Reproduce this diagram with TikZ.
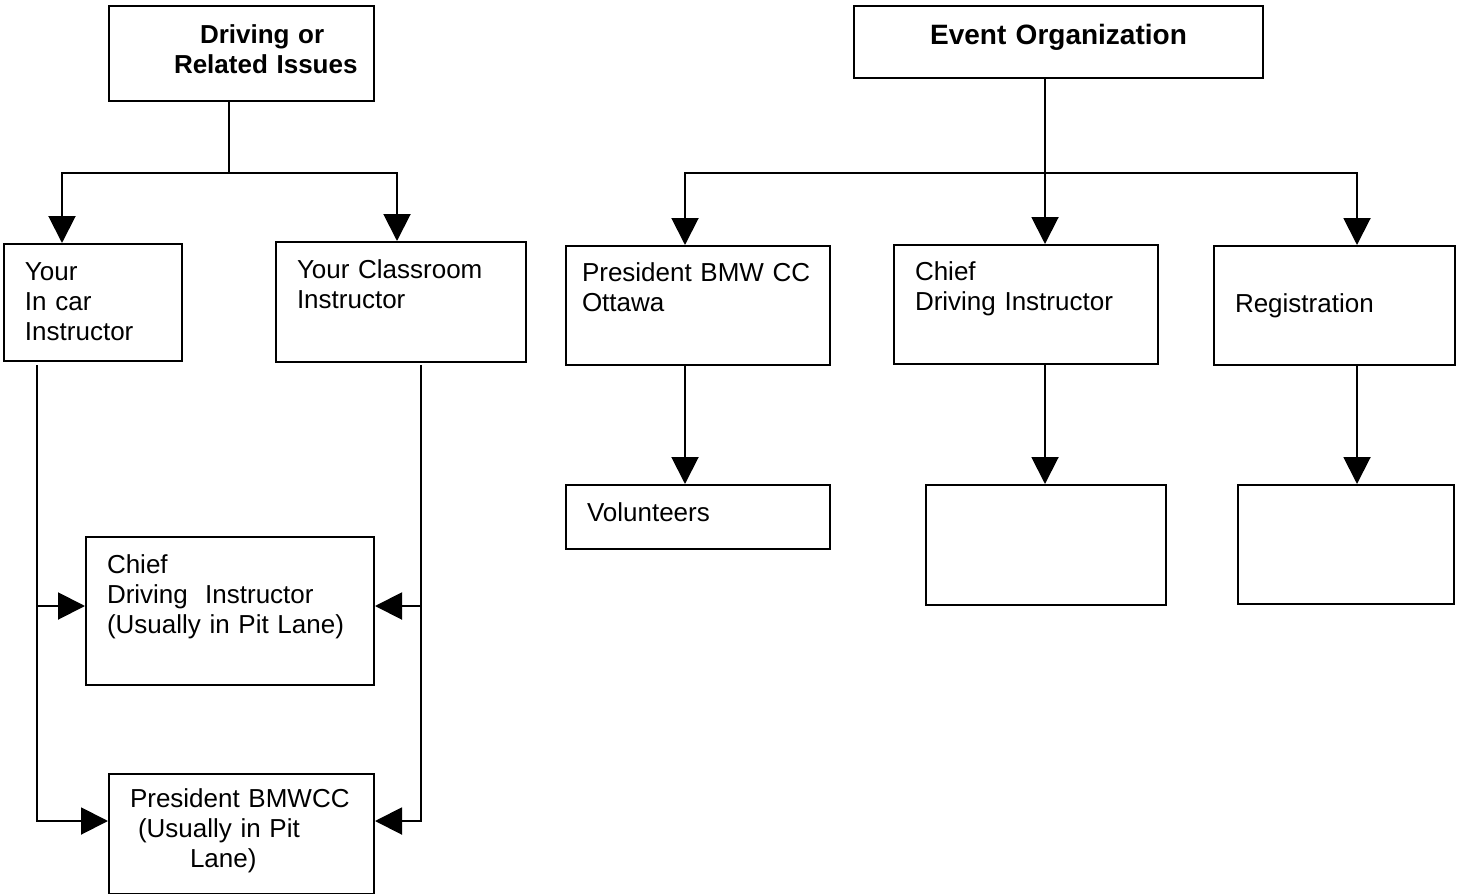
\documentclass[tikz,border=0pt]{standalone}
\usepackage{fontspec}
\setmainfont{Liberation Sans}
\usetikzlibrary{arrows.meta}

\begin{document}
\begin{tikzpicture}[x=0.5pt, y=-0.5pt,
    box/.style={rectangle, draw, line width=1pt, anchor=north west, inner xsep=10.5pt, inner ysep=0pt, align=left, text height=18pt, font=\fontsize{13}{15}\selectfont},
    head/.style={box, font=\fontsize{13}{15}\selectfont\bfseries},
    line/.style={draw, line width=1pt},
    arr/.style={line, -{Triangle[length=13.5pt, width=13.5pt]}}]

    \useasboundingbox (0,0) rectangle (1458,894);

    % driving side
    \node [head, inner xsep=6pt, text width=120.5pt, text height=18.5pt, text depth=29pt] (drive) at (108,5) {\hspace*{39.5pt}Driving or\\\hspace*{26.5pt}Related Issues};
    \node [box, text width=68pt, text depth=40.5pt] (incar) at (3,243) {Your\\In car\\Instructor};
    \node [box, text width=104pt, text depth=42pt] (classroom) at (275,241) {Your Classroom\\Instructor};
    \node [box, text width=123pt, text depth=56pt] (chiefpit) at (85,536) {Chief\\Driving\ \ Instructor\\(Usually in Pit Lane)};
    \node [box, text width=111.5pt, text height=16.5pt, text depth=43.5pt] (prespit) at (108,773) {President BMWCC\\\hspace*{4pt}(Usually in Pit\\\hspace*{30pt}Lane)};

    % event side
    \node [head, align=center, font=\fontsize{14}{16}\selectfont\bfseries, text width=183.5pt, text height=19pt, text depth=17pt] (event) at (853,5) {Event Organization};
    \node [box, inner xsep=8pt, text width=116pt, text height=17.5pt, text depth=42pt] (president) at (565,245) {President BMW CC\\Ottawa};
    \node [box, text width=111pt, text height=17.5pt, text depth=42pt] (chief) at (893,244) {Chief\\Driving Instructor};
    \node [box, text width=99.5pt, text height=33pt, text depth=26.5pt] (registration) at (1213,245) {Registration};
    \node [box, text width=111pt, text depth=14pt] (volunteers) at (565,484) {Volunteers};
    \node [box, text width=99pt, text depth=42pt] (chiefteam) at (925,484) {};
    \node [box, text width=87pt, text depth=41.5pt] (regteam) at (1237,484) {};

    \coordinate (dsplit) at (229,173);
    \coordinate (dleft) at (62,173);
    \coordinate (dright) at (397,173);
    \coordinate (ltop) at (37,365);
    \coordinate (rtop) at (421,365);
    \coordinate (esplit) at (1045,173);
    \coordinate (eleft) at (685,173);
    \coordinate (eright) at (1357,173);

    \path [line] (drive.south -| dsplit) -- (dsplit);
    \path [arr] (dsplit) -- (dleft) -- (dleft |- incar.north);
    \path [arr] (dsplit) -- (dright) -- (dright |- classroom.north);
    \path [arr] ([yshift=2.5pt]chiefpit.west -| ltop) -- ([yshift=2.5pt]chiefpit.west);
    \path [arr] (ltop) |- ([yshift=6.5pt]prespit.west);
    \path [arr] ([yshift=2.5pt]chiefpit.east -| rtop) -- ([yshift=2.5pt]chiefpit.east);
    \path [arr] (rtop) |- ([yshift=6.5pt]prespit.east);

    \path [arr] (event.south -| esplit) -- (esplit |- chief.north);
    \path [arr] (esplit) -- (eleft) -- (eleft |- president.north);
    \path [arr] (esplit) -- (eright) -- (eright |- registration.north);
    \path [arr] (president.south -| eleft) -- (volunteers.north -| eleft);
    \path [arr] (chief.south -| esplit) -- (chiefteam.north -| esplit);
    \path [arr] (registration.south -| eright) -- (regteam.north -| eright);
\end{tikzpicture}
\end{document}
